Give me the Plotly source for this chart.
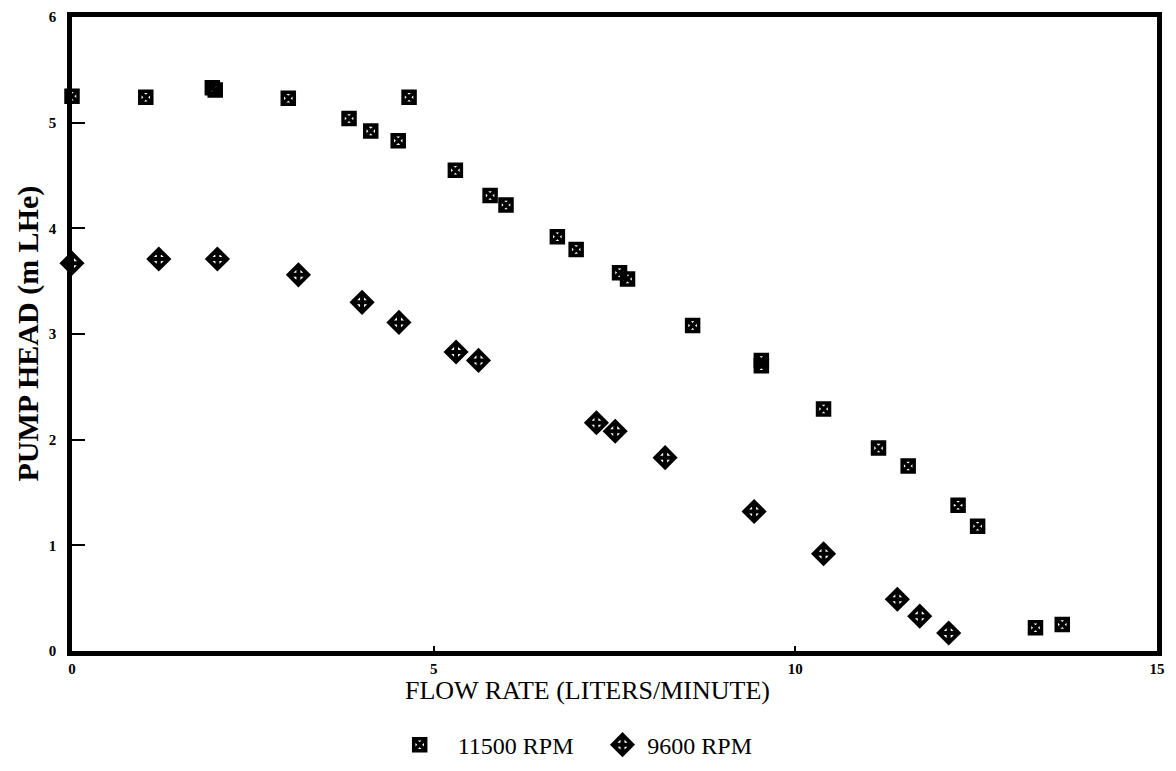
import plotly.graph_objects as go

# 11500 RPM series
flow_11500 = [0.0, 1.02, 1.94, 1.98, 2.99, 3.83, 4.13, 4.51, 4.66, 5.30, 5.78, 6.00,
              6.71, 6.97, 7.57, 7.68, 8.58, 9.53, 9.53, 10.39, 11.15, 11.56, 12.25,
              12.52, 13.32, 13.69]
head_11500 = [5.25, 5.24, 5.33, 5.31, 5.23, 5.04, 4.92, 4.83, 5.24, 4.55, 4.31, 4.22,
              3.92, 3.80, 3.58, 3.52, 3.08, 2.75, 2.70, 2.29, 1.92, 1.75, 1.38,
              1.18, 0.22, 0.25]

# 9600 RPM series
flow_9600 = [0.0, 1.20, 2.01, 3.13, 4.01, 4.52, 5.31, 5.62, 7.25, 7.51, 8.20, 9.43,
             10.39, 11.41, 11.72, 12.12]
head_9600 = [3.67, 3.71, 3.71, 3.56, 3.30, 3.11, 2.83, 2.75, 2.16, 2.08, 1.83, 1.32,
             0.92, 0.49, 0.33, 0.17]

series_names = ["11500 RPM", "9600 RPM"]
x_ticks = [0, 5, 10, 15]
y_ticks = [0, 1, 2, 3, 4, 5, 6]

SERIF = "Liberation Serif, Times New Roman, serif"

fig = go.Figure()
fig.add_trace(go.Scatter(
    x=flow_11500, y=head_11500, mode="markers",
    name="\u2002\u2005" + series_names[0] + "\u2002\u2002",
    cliponaxis=False,
    marker=dict(symbol="square-x-open", size=12, color="black",
                line=dict(color="black", width=3.5)),
))
fig.add_trace(go.Scatter(
    x=flow_9600, y=head_9600, mode="markers",
    name="\u2009" + series_names[1],
    cliponaxis=False,
    marker=dict(symbol="diamond-cross-open", size=15, color="black",
                line=dict(color="black", width=4)),
))

axis_common = dict(
    showline=True, linecolor="black", linewidth=4.5, mirror=True,
    showgrid=False, zeroline=False, ticks="inside", tickcolor="black",
    tickwidth=2, layer="below traces", automargin=False,
    tickfont=dict(family=SERIF, size=15, color="black", weight="bold"),
)

fig.update_xaxes(range=[0, 15], tickvals=x_ticks, ticklen=5,
                 ticklabelstandoff=0, **axis_common)
fig.update_yaxes(range=[0, 6], tickvals=y_ticks, ticklen=13,
                 ticklabelstandoff=8, **axis_common)

fig.add_annotation(
    text="FLOW RATE (LITERS/MINUTE)", xref="paper", yref="paper",
    x=0.475, y=-0.062, xanchor="center", yanchor="middle", showarrow=False,
    font=dict(family=SERIF, size=26, color="black"),
)
fig.add_annotation(
    text="PUMP HEAD (m LHe)", xref="paper", yref="paper",
    x=-0.041, y=0.5, xanchor="center", yanchor="middle", showarrow=False,
    textangle=-90,
    font=dict(family=SERIF, size=30, color="black", weight="bold"),
)

# the page body has an 8 px margin, so the figure is 8 px smaller and its
# left/top margins 8 px less to keep the plot area at the reference position
fig.update_layout(
    width=1168, height=763,
    margin=dict(l=64, r=19, t=9, b=120, autoexpand=False),
    paper_bgcolor="white", plot_bgcolor="white",
    showlegend=True,
    legend=dict(orientation="h", x=0.467, xanchor="center",
                yref="container", y=0.034, yanchor="middle",
                font=dict(family=SERIF, size=24, color="black"),
                bgcolor="rgba(0,0,0,0)", itemwidth=30),
)

fig.write_html("out.html")
